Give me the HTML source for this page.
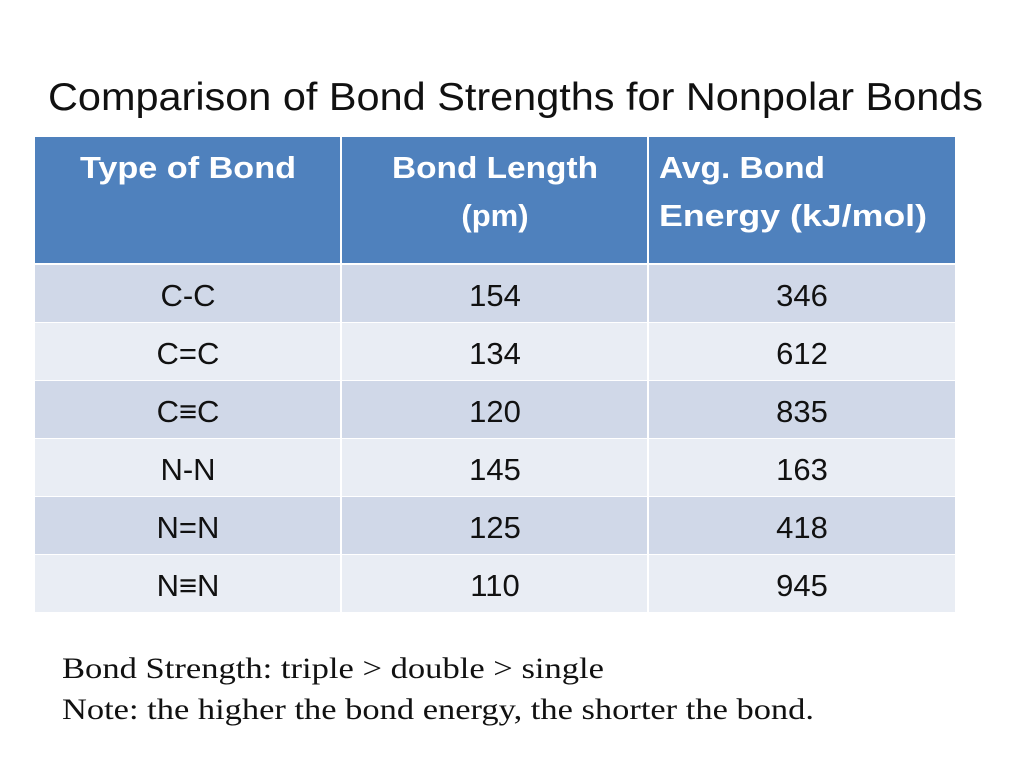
<!DOCTYPE html>
<html><head><meta charset="utf-8"><style>
html,body{margin:0;padding:0;background:#fff;}
svg{display:block;}
.h{font-family:"Liberation Sans",sans-serif;font-weight:bold;fill:#fff;font-size:31px;}
.b{font-family:"Liberation Sans",sans-serif;fill:#111;font-size:31px;}
.f{font-family:"Liberation Serif",serif;fill:#111;font-size:30px;}
</style></head><body>
<svg width="1024" height="768" viewBox="0 0 1024 768">
<rect width="1024" height="768" fill="#fff"/>
<text x="48" y="110" font-family="Liberation Sans, sans-serif" font-size="39" fill="#111" textLength="935" lengthAdjust="spacingAndGlyphs">Comparison of Bond Strengths for Nonpolar Bonds</text>
<g>
<rect x="35" y="137" width="920" height="126" fill="#4F81BD"/>
<rect x="35" y="265" width="920" height="57" fill="#D0D8E8"/>
<rect x="35" y="323" width="920" height="57" fill="#E9EDF4"/>
<rect x="35" y="381" width="920" height="57" fill="#D0D8E8"/>
<rect x="35" y="439" width="920" height="57" fill="#E9EDF4"/>
<rect x="35" y="497" width="920" height="57" fill="#D0D8E8"/>
<rect x="35" y="555" width="920" height="57" fill="#E9EDF4"/>
<rect x="340" y="137" width="2" height="475" fill="#fff"/>
<rect x="647" y="137" width="2" height="475" fill="#fff"/>
<text class="h" x="188" y="178" text-anchor="middle" textLength="216" lengthAdjust="spacingAndGlyphs">Type of Bond</text>
<text class="h" x="495" y="178" text-anchor="middle" textLength="206" lengthAdjust="spacingAndGlyphs">Bond Length</text>
<text class="h" x="495" y="226" text-anchor="middle">(pm)</text>
<text class="h" x="659" y="178" textLength="166" lengthAdjust="spacingAndGlyphs">Avg. Bond</text>
<text class="h" x="659" y="226" textLength="268" lengthAdjust="spacingAndGlyphs">Energy  (kJ/mol)</text>
<g>
<text class="b" x="188" y="306" text-anchor="middle">C-C</text><text class="b" x="495" y="306" text-anchor="middle">154</text><text class="b" x="802" y="306" text-anchor="middle">346</text>
<text class="b" x="188" y="364" text-anchor="middle">C=C</text><text class="b" x="495" y="364" text-anchor="middle">134</text><text class="b" x="802" y="364" text-anchor="middle">612</text>
<text class="b" x="188" y="422" text-anchor="middle">C≡C</text><text class="b" x="495" y="422" text-anchor="middle">120</text><text class="b" x="802" y="422" text-anchor="middle">835</text>
<text class="b" x="188" y="480" text-anchor="middle">N-N</text><text class="b" x="495" y="480" text-anchor="middle">145</text><text class="b" x="802" y="480" text-anchor="middle">163</text>
<text class="b" x="188" y="538" text-anchor="middle">N=N</text><text class="b" x="495" y="538" text-anchor="middle">125</text><text class="b" x="802" y="538" text-anchor="middle">418</text>
<text class="b" x="188" y="596" text-anchor="middle">N≡N</text><text class="b" x="495" y="596" text-anchor="middle">110</text><text class="b" x="802" y="596" text-anchor="middle">945</text>
</g>
</g>
<text class="f" x="62" y="678" textLength="542" lengthAdjust="spacingAndGlyphs">Bond Strength:  triple &gt; double &gt; single</text>
<text class="f" x="62" y="719" textLength="752" lengthAdjust="spacingAndGlyphs">Note:  the higher the bond energy, the shorter the bond.</text>
</svg>
</body></html>
